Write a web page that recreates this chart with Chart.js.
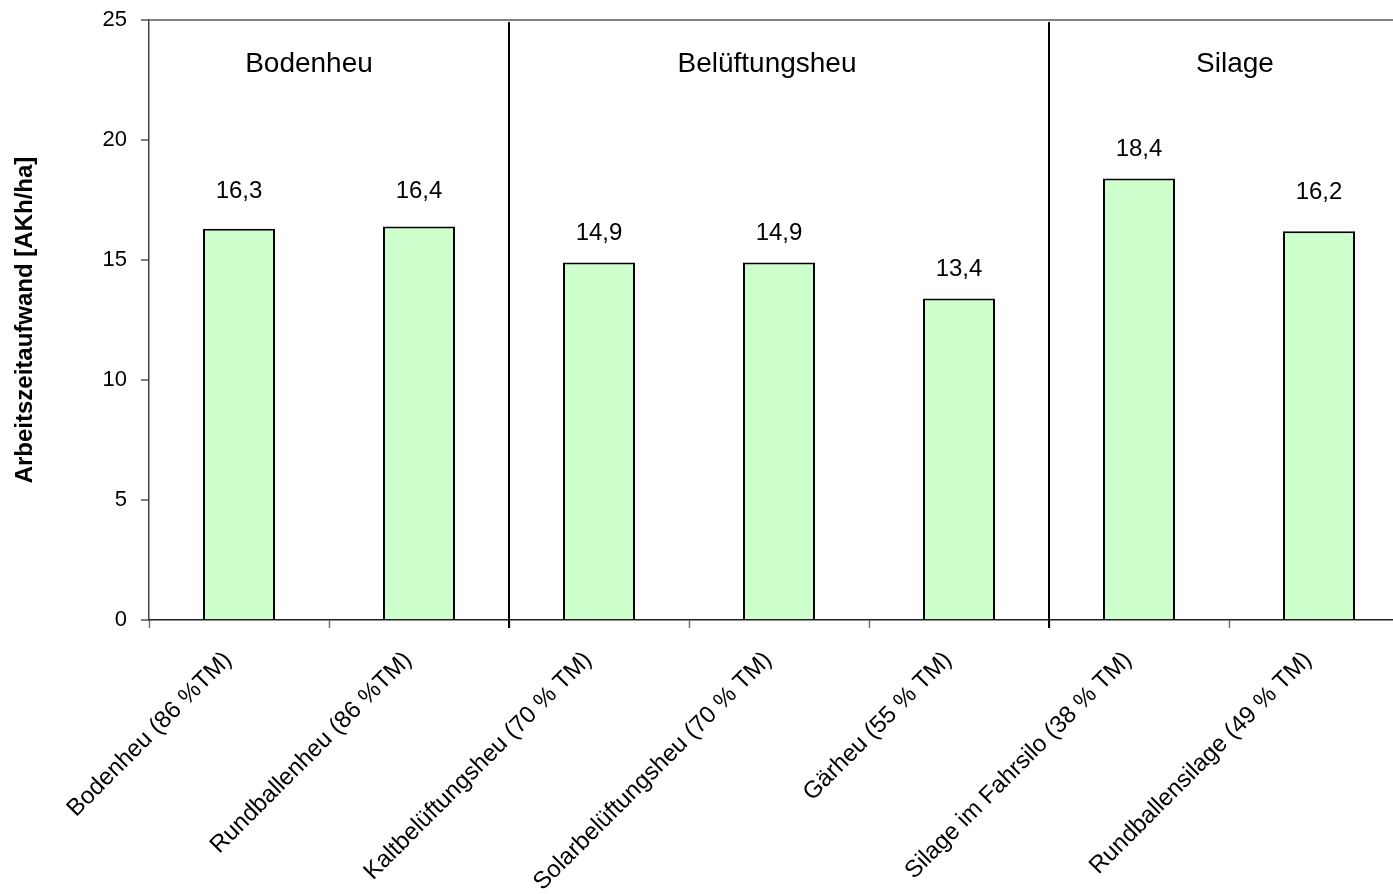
<!DOCTYPE html>
<html>
<head>
<meta charset="utf-8">
<title>Arbeitszeitaufwand</title>
<script src="https://cdn.jsdelivr.net/npm/chart.js@4/dist/chart.umd.min.js"></script>
<style>
  html, body { margin: 0; padding: 0; background: #fff; overflow: hidden; }
  #wrap { width: 1420px; height: 894px; }
</style>
</head>
<body>
<div id="wrap"><canvas id="c" width="1420" height="894"></canvas></div>
<script>
// Verfahren und Arbeitszeitaufwand je Hektar
const categories = [
  'Bodenheu (86 %TM)',
  'Rundballenheu (86 %TM)',
  'Kaltbelüftungsheu (70 % TM)',
  'Solarbelüftungsheu (70 % TM)',
  'Gärheu (55 % TM)',
  'Silage im Fahrsilo (38 % TM)',
  'Rundballensilage (49 % TM)'
];
const values = [16.3, 16.4, 14.9, 14.9, 13.4, 18.4, 16.2];
const yTicks = [0, 5, 10, 15, 20, 25];
const groupNames = ['Bodenheu', 'Belüftungsheu', 'Silage'];
const groupFirst = [0, 2, 5];
const groupLast = [1, 4, 6];
const yTitle = 'Arbeitszeitaufwand [AKh/ha]';

const FONT = "'Liberation Sans', Arial, sans-serif";
// horizontal nudges of the group headings (px) relative to the group centre
const groupNudge = [-20, -12, 6];
// extra lift (px) of individual value labels above the default gap
const labelLift = [9, 6, 0, 0, 0, 0, 10];

const fmt = v => v.toFixed(1).replace('.', ',');

const overlay = {
  id: 'overlay',
  afterDatasetsDraw(chart) {
    const { ctx, chartArea, scales: { x, y } } = chart;
    ctx.save();
    // separators between the groups
    ctx.strokeStyle = '#000';
    ctx.lineWidth = 2;
    for (let g = 0; g < groupLast.length - 1; g++) {
      const i = groupLast[g];
      const px = Math.round((x.getPixelForValue(i) + x.getPixelForValue(i + 1)) / 2);
      ctx.beginPath();
      ctx.moveTo(px, chartArea.top + 2);
      ctx.lineTo(px, chartArea.bottom + 8);
      ctx.stroke();
    }
    // group headings
    ctx.fillStyle = '#000';
    ctx.font = '28px ' + FONT;
    ctx.textAlign = 'center';
    ctx.textBaseline = 'alphabetic';
    groupNames.forEach((name, g) => {
      const cx = (x.getPixelForValue(groupFirst[g]) + x.getPixelForValue(groupLast[g])) / 2 + groupNudge[g];
      ctx.fillText(name, cx, y.getPixelForValue(22.85));
    });
    // value labels above the bars
    ctx.font = '24px ' + FONT;
    const meta = chart.getDatasetMeta(0);
    meta.data.forEach((bar, i) => {
      ctx.fillText(fmt(values[i]), bar.x, bar.y - 22 - labelLift[i]);
    });
    ctx.restore();
  }
};

new Chart(document.getElementById('c'), {
  type: 'bar',
  data: {
    labels: categories,
    datasets: [{
      data: values,
      backgroundColor: '#CCFFCC',
      borderColor: '#000',
      borderWidth: 2,
      categoryPercentage: 1,
      barPercentage: 0.4
    }]
  },
  options: {
    responsive: false,
    animation: false,
    devicePixelRatio: 1,
    layout: { padding: { top: 20, right: 11, left: 0, bottom: 0 } },
    plugins: { legend: { display: false }, tooltip: { enabled: false } },
    scales: {
      x: {
        offset: true,
        grid: {
          offset: true,
          drawOnChartArea: false,
          drawTicks: true,
          tickLength: 8,
          tickColor: '#707070',
          tickWidth: 1.5
        },
        border: { display: true, color: '#202020', width: 1.5 },
        ticks: {
          autoSkip: false,
          minRotation: 45,
          maxRotation: 45,
          padding: 18,
          labelOffset: -11,
          color: '#000',
          font: { family: FONT, size: 24 }
        },
        afterFit(scale) { scale.height = 274; scale.paddingLeft = 0; scale.paddingRight = 0; }
      },
      y: {
        min: 0,
        max: 25,
        afterBuildTicks(scale) { scale.ticks = yTicks.map(v => ({ value: v })); },
        grid: {
          color: c => (c.tick && c.tick.value === 25 ? '#808080' : 'rgba(0,0,0,0)'),
          lineWidth: 2,
          drawTicks: true,
          tickLength: 8,
          tickColor: '#555',
          tickWidth: 1.5
        },
        border: { display: true, color: '#404040', width: 1.5 },
        ticks: {
          padding: 14,
          color: '#000',
          font: { family: FONT, size: 22 }
        },
        title: {
          display: true,
          text: yTitle,
          color: '#000',
          padding: { top: 11, bottom: 0 },
          font: { family: FONT, size: 24, weight: 'bold' }
        },
        afterFit(scale) { scale.width = 149; scale.paddingTop = 0; scale.paddingBottom = 0; }
      }
    }
  },
  plugins: [overlay]
});
</script>
</body>
</html>
